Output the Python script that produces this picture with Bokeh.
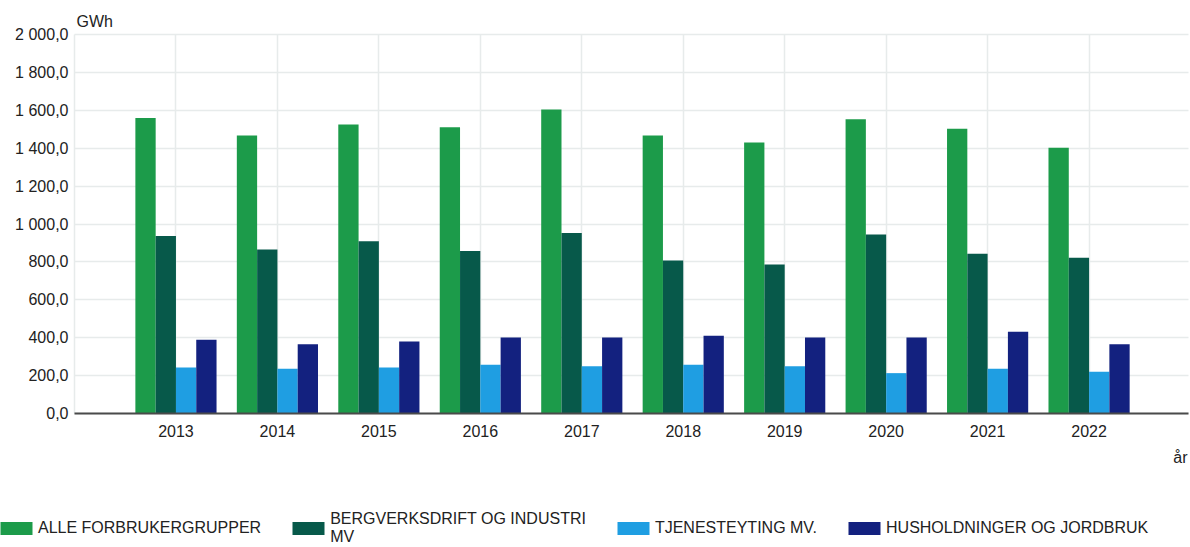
from bokeh.plotting import figure
from bokeh.models import (ColumnDataSource, Range1d, FixedTicker, CustomJSTickFormatter,
                          Label, Legend, LegendItem)
from bokeh.transform import dodge
from bokeh.embed import file_html
from bokeh.resources import INLINE

# ---- data ----
years = [2013, 2014, 2015, 2016, 2017, 2018, 2019, 2020, 2021, 2022]
alle_forbrukergrupper = [1560, 1467, 1525, 1511, 1604, 1467, 1430, 1553, 1502, 1402]
bergverksdrift_industri = [937, 865, 909, 858, 953, 807, 786, 945, 843, 822]
tjenesteyting = [243, 236, 243, 257, 250, 257, 250, 213, 236, 220]
husholdninger_jordbruk = [389, 366, 380, 401, 401, 410, 401, 401, 431, 366]
series_names = ["ALLE FORBRUKERGRUPPER", "BERGVERKSDRIFT OG INDUSTRI MV",
                "TJENESTEYTING MV.", "HUSHOLDNINGER OG JORDBRUK"]
y_ticks = [0, 200, 400, 600, 800, 1000, 1200, 1400, 1600, 1800, 2000]
y_unit = "GWh"
x_unit = "år"

colors = ["#1c9b4a", "#07594a", "#1f9ee2", "#13217f"]
FONT = "Liberation Sans"
TXT = "#222222"

src = ColumnDataSource(dict(year=years, a=alle_forbrukergrupper, b=bergverksdrift_industri,
                            c=tjenesteyting, d=husholdninger_jordbruk))

# ---- layout: the frame covers the whole canvas; the plot area is a box inside it ----
W, H = 1190, 547
PL, PT, PR, PB = 74, 34, 1188, 413          # plot-area box in pixels
X0, X1 = years[0] - 1, years[-1] + 0.98      # data extent of the plot area
Y0, Y1 = y_ticks[0], y_ticks[-1]
sx = (PR - PL) / (X1 - X0)
sy = (PB - PT) / (Y1 - Y0)
x_range = Range1d(X0 - PL / sx, X1 + (W - PR) / sx)
y_range = Range1d(Y0 - (H - PB) / sy, Y1 + PT / sy)

p = figure(width=W, height=H, x_range=x_range, y_range=y_range,
           output_backend="svg", toolbar_location=None,
           min_border_left=0, min_border_top=0, min_border_bottom=0, min_border_right=0)
p.outline_line_color = None
p.title.visible = False

renderers = []
offsets = [-0.3, -0.1, 0.1, 0.3]
for key, off, col in zip(["a", "b", "c", "d"], offsets, colors):
    r = p.vbar(x=dodge("year", off, range=p.x_range), top=key, width=0.2, source=src,
               fill_color=col, line_color=None)
    renderers.append(r)

# y axis drawn at the plot-area's left edge
yax = p.yaxis[0]
yax.fixed_location = X0
yax.bounds = (Y0, Y1)
yax.ticker = FixedTicker(ticks=y_ticks)
yax.formatter = CustomJSTickFormatter(code="""
    const s = tick.toFixed(1).split('.');
    return s[0].replace(/\\B(?=(\\d{3})+(?!\\d))/g, ' ') + ',' + s[1];
""")
yax.axis_line_color = None
yax.major_tick_line_color = None
yax.minor_tick_line_color = None
yax.major_tick_out = 0
yax.minor_tick_out = 0
yax.major_label_standoff = 6
yax.major_label_text_font = FONT
yax.major_label_text_font_size = "16px"
yax.major_label_text_color = TXT

# x axis drawn at y = 0
xax = p.xaxis[0]
xax.fixed_location = Y0
xax.bounds = (X0, X1)
xax.ticker = FixedTicker(ticks=years)
xax.axis_line_color = "#4a4a4a"
xax.axis_line_width = 2
xax.major_tick_line_color = None
xax.minor_tick_line_color = None
xax.major_tick_out = 0
xax.minor_tick_out = 0
xax.major_label_standoff = 11
xax.major_label_text_font = FONT
xax.major_label_text_font_size = "16px"
xax.major_label_text_color = TXT

p.ygrid.ticker = FixedTicker(ticks=y_ticks)
p.ygrid.grid_line_color = "#e7ebeb"
p.ygrid.grid_line_width = 1.5
p.ygrid.cross_bounds = (X0, X1)
p.xgrid.ticker = FixedTicker(ticks=[years[0] - 1] + years)
p.xgrid.grid_line_color = "#e7ebeb"
p.xgrid.grid_line_width = 1.5
p.xgrid.cross_bounds = (Y0, Y1)

# unit labels (screen units: from the frame's bottom-left corner = canvas bottom-left)
p.add_layout(Label(x=76, y=H - 20.5, x_units="screen", y_units="screen", text=y_unit,
                   text_font=FONT, text_font_size="16px", text_color=TXT,
                   text_baseline="alphabetic", text_align="left"))
p.add_layout(Label(x=1187, y=H - 457, x_units="screen", y_units="screen", text=x_unit,
                   text_font=FONT, text_font_size="16px", text_color=TXT,
                   text_baseline="alphabetic", text_align="right"))

# legend
labels = [series_names[0], "BERGVERKSDRIFT OG INDUSTRI\nMV", series_names[2], series_names[3]]
legend = Legend(items=[LegendItem(label=lab, renderers=[r]) for lab, r in zip(labels, renderers)],
                orientation="horizontal", location=(-4, 1),
                glyph_width=40, glyph_height=16, label_standoff=2, spacing=27,
                label_text_font=FONT, label_text_font_size="16px", label_text_color=TXT,
                padding=0, margin=0, border_line_color=None, background_fill_alpha=0)
p.add_layout(legend, "center")

open("out.html", "w").write(file_html(p, INLINE))
